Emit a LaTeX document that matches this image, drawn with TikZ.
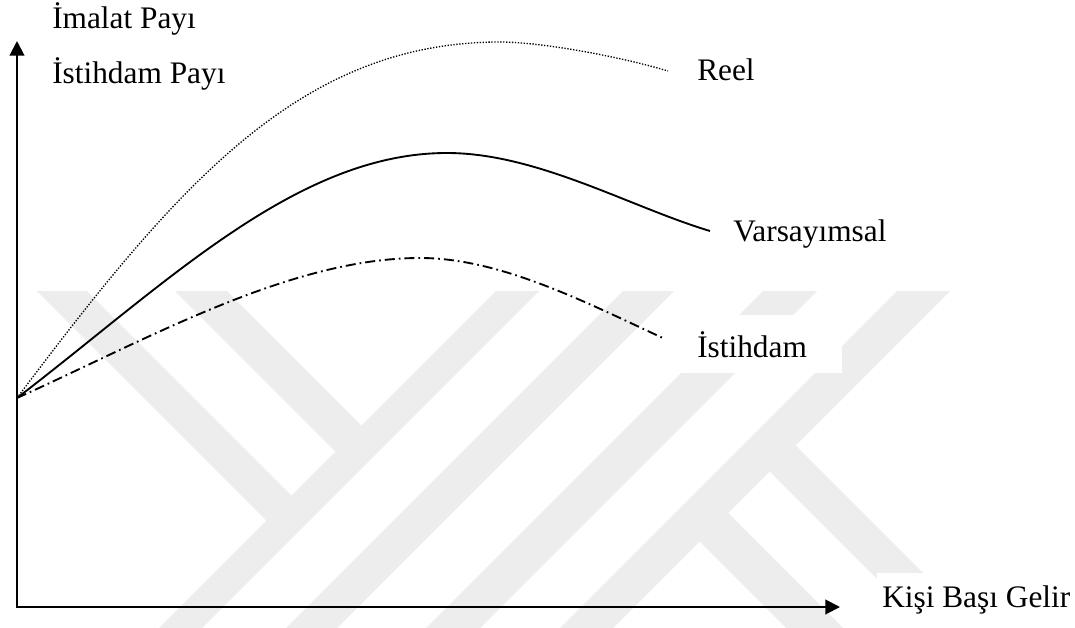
\documentclass[tikz,border=0pt]{standalone}
\usepackage{fontspec}
\setmainfont{Liberation Serif}
\usetikzlibrary{arrows.meta}
\definecolor{wm}{RGB}{237,237,237}
\begin{document}
\begin{tikzpicture}[x=0.75pt,y=-0.75pt,
  lbl/.style={anchor=base west,inner sep=0pt,font=\fontsize{23.5}{28}\selectfont},
  axis/.style={line width=1.5pt,{Triangle[length=11pt,width=11pt]}-{Triangle[length=11pt,width=11pt]}},
  band/.style={fill=wm},
  maskbox/.style={fill=white},
  reelline/.style={line width=1pt,dash pattern=on 1pt off 1.2pt},
  varline/.style={line width=1.4pt},
  istline/.style={line width=1.4pt,dash pattern=on 7.5pt off 3pt on 1.3pt off 3pt}]
\useasboundingbox[fill=white] (0,0) rectangle (1075,628);
% watermark
\begin{scope}
\clip (0,291) rectangle (1075,628);
\fill[band] (37,291) -- (87,291) -- (291.5,495.5) -- (266.5,520.5) -- cycle;
\fill[band] (175,291) -- (227,291) -- (361.5,425.5) -- (335.5,451.5) -- cycle;
\fill[band] (496,291) -- (539,291) -- (202,628) -- (159,628) -- cycle;
\fill[band] (623,291) -- (674,291) -- (337,628) -- (286,628) -- cycle;
\fill[band] (763,291) -- (817,291) -- (480,628) -- (426,628) -- cycle;
\fill[band] (897,291) -- (950,291) -- (613,628) -- (560,628) -- cycle;
\fill[band] (795.5,445.5) -- (978,628) -- (926,628) -- (769.5,471.5) -- cycle;
\fill[band] (728,513) -- (843,628) -- (786,628) -- (699.5,541.5) -- cycle;
\end{scope}
\fill[maskbox] (680,315) rectangle (842,373);
\fill[maskbox] (877,573) rectangle (1075,628);
% axes
\coordinate (O) at (17,607);
\coordinate (ytip) at (17,41);
\coordinate (xtip) at (840,607);
\draw[axis] (ytip) -- (O) -- (xtip);
% curves
\coordinate (C0) at (17,398);
\coordinate (Rpk) at (500,42);
\coordinate (Rend) at (668,71);
\coordinate (Vpk) at (447,153);
\coordinate (Vend) at (710,231);
\coordinate (Ipk) at (420,258);
\coordinate (Iend) at (665,339);
\draw[reelline] (C0) .. controls (177,185) and (300,42) .. (Rpk)
  .. controls (540,42) and (618,56) .. (Rend);
\draw[varline] (C0) .. controls (167,283) and (297,153) .. (Vpk)
  .. controls (537,153) and (630,207) .. (Vend);
\draw[istline] (C0) .. controls (147,339.5) and (290,258) .. (Ipk)
  .. controls (500,258) and (585,302) .. (Iend);
% labels
\node[lbl] (imalat) at (52,28) {İmalat Payı};
\node[lbl] (istpay) at (52,83) {İstihdam Payı};
\node[lbl] (reel) at (697,80) {Reel};
\node[lbl] (vars) at (733,241) {Varsayımsal};
\node[lbl] (ist) at (697,357) {İstihdam};
\node[lbl] (kisi) at (882,607) {Kişi Başı Gelir};
\end{tikzpicture}
\end{document}
